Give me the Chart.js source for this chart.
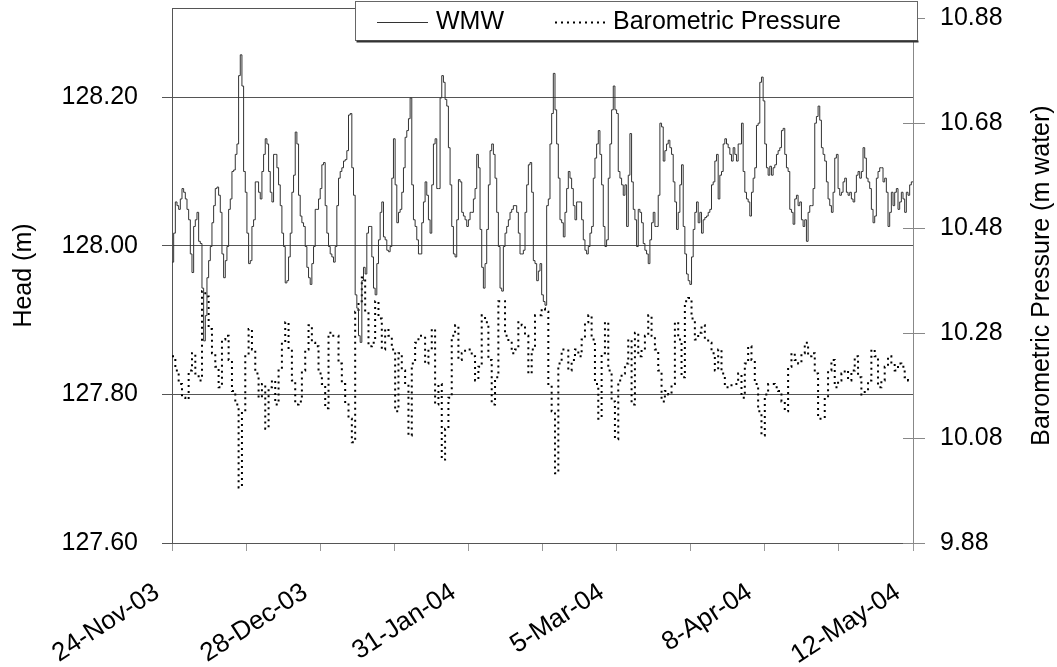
<!DOCTYPE html>
<html>
<head>
<meta charset="utf-8">
<script src="https://cdn.jsdelivr.net/npm/chart.js@4.4.0/dist/chart.umd.min.js"></script>
<style>
  html, body { margin: 0; background: #fff; }
  #wrap { width: 1057px; height: 667px; position: relative; }
</style>
</head>
<body>
<div id="wrap"><canvas id="chart"></canvas></div>
<script>
// --- Data ---
// WMW head (m), one reading every sample step from 24-Nov-03
const wmwHead = [
  127.978,128.017,128.059,128.054,128.049,128.063,128.077,128.072,128.063,128.049,
  128.035,127.989,127.964,128.026,128.035,128.045,128.006,128.003,127.943,127.872,
  127.906,127.957,127.980,127.999,128.031,128.054,128.077,128.079,128.068,128.045,
  127.989,127.957,127.980,127.999,128.049,128.063,128.100,128.102,128.123,128.137,
  128.229,128.257,128.215,128.100,128.072,128.017,127.976,127.980,128.026,128.035,
  128.086,128.086,128.072,128.063,128.100,128.123,128.144,128.137,128.100,128.072,
  128.059,128.123,128.123,128.105,128.082,128.054,128.017,127.999,127.950,127.953,
  127.985,128.017,128.072,128.095,128.153,128.137,128.068,128.040,128.031,128.026,
  127.999,127.971,127.957,127.948,127.976,127.999,128.049,128.049,128.063,128.077,
  128.109,128.112,128.054,128.017,127.999,127.989,127.985,127.978,127.999,128.054,
  128.091,128.100,128.105,128.114,128.116,128.128,128.176,128.178,128.105,128.068,
  127.934,127.916,127.879,
  127.870,127.953,127.971,127.962,128.017,128.026,128.026,127.985,127.943,127.934,
  127.976,128.008,128.045,128.059,128.012,128.008,127.994,127.992,127.999,128.091,
  128.144,128.082,128.031,128.045,128.049,128.072,128.105,128.146,128.155,128.171,
  128.199,128.082,128.035,128.026,128.008,127.989,127.989,128.031,128.059,128.086,
  128.068,128.035,128.017,128.082,128.137,128.144,128.077,128.077,128.199,128.229,
  128.220,128.197,128.188,128.132,128.082,128.026,127.989,127.985,128.035,128.089,
  128.086,128.045,128.040,128.035,128.026,128.035,128.045,128.045,128.063,128.077,
  128.123,128.105,128.022,127.971,127.943,127.976,128.022,128.082,128.128,128.137,
  128.123,128.091,128.045,127.999,127.943,127.939,127.999,128.017,128.026,128.035,
  128.045,128.049,128.054,128.054,128.045,128.017,127.989,127.989,127.994,128.045,
  128.082,128.109,128.112,128.072,127.980,127.976,127.953,127.966,127.976,
  127.934,127.925,127.920,128.054,128.063,128.137,128.178,128.232,128.183,128.137,
  128.091,128.035,128.031,128.012,128.045,128.077,128.100,128.091,128.077,128.054,
  128.035,128.059,128.059,128.059,128.035,128.008,127.994,127.989,127.999,128.017,
  128.026,128.091,128.118,128.137,128.155,128.123,128.082,128.026,127.999,128.008,
  128.091,128.137,128.183,128.215,128.183,128.178,128.100,128.091,128.082,128.068,
  128.082,128.026,128.095,128.151,128.086,128.049,128.035,127.999,128.049,128.045,
  128.031,128.003,127.994,127.989,127.976,128.008,128.031,128.045,128.026,128.026,
  128.068,128.165,128.160,128.114,128.128,128.137,128.142,128.132,128.123,128.086,
  128.059,128.022,128.045,128.082,128.109,128.026,127.989,127.962,127.953,127.948,
  127.985,128.022,128.045,128.059,128.031,128.045,128.017,128.035,128.038,128.040,
  128.045,128.049,128.082,128.086,128.114,128.123,128.063,128.095,128.100,128.137,
  128.144,128.137,128.132,128.123,
  128.114,128.132,128.123,128.114,128.137,128.137,128.165,128.100,128.072,128.063,
  128.059,128.040,128.072,128.091,128.105,128.162,128.165,128.220,128.227,128.195,
  128.137,128.105,128.095,128.107,128.095,128.105,128.109,128.123,128.128,128.132,
  128.155,128.158,128.123,128.105,128.100,128.049,128.045,128.029,128.063,128.068,
  128.054,128.059,128.035,128.026,128.035,128.006,128.045,128.054,128.054,128.077,
  128.165,128.174,128.188,128.169,128.132,128.123,128.114,128.086,128.063,128.054,
  128.045,128.072,128.118,128.123,128.077,128.068,128.072,128.086,128.091,128.072,
  128.068,128.072,128.063,128.059,128.072,128.095,128.100,128.091,128.100,128.132,
  128.118,128.091,128.086,128.077,128.049,128.031,128.040,128.091,128.100,128.105,
  128.105,128.086,128.091,128.072,128.026,128.045,128.072,128.054,128.072,128.077,
  128.049,128.059,128.072,128.063,128.045,128.072,128.068,128.082,128.086,128.086
];

// Barometric pressure (m water), one reading every second sample step
const baroPressure = [
  10.236,10.209,10.183,10.157,10.154,10.209,10.242,10.203,10.190,10.360,
  10.350,10.288,10.242,10.216,10.177,10.268,10.275,10.229,10.170,10.144,
  9.986,10.131,10.236,10.288,10.249,10.203,10.157,10.183,10.098,10.177,
  10.190,10.144,10.209,10.262,10.301,10.249,10.190,10.144,10.150,10.209,
  10.249,10.295,10.262,10.255,10.203,10.183,10.137,10.281,10.275,10.275,
  10.222,10.183,10.144,10.117,10.072,10.321,10.341,
  10.386,10.321,10.255,10.262,10.341,10.308,10.249,10.288,10.275,10.249,
  10.131,10.242,10.209,10.183,10.085,10.222,10.262,10.275,10.275,10.222,
  10.249,10.288,10.144,10.183,10.039,10.098,10.157,10.275,10.295,10.229,
  10.242,10.249,10.249,10.236,10.190,10.216,10.314,10.301,10.229,10.144,
  10.196,10.341,10.341,10.275,10.262,10.242,10.249,10.301,10.295,10.275,
  10.203,10.249,10.314,10.314,
  10.327,10.321,10.183,10.131,10.013,10.222,10.249,10.249,10.209,10.229,
  10.249,10.236,10.268,10.301,10.314,10.268,10.183,10.117,10.242,10.301,
  10.209,10.150,10.078,10.190,10.203,10.222,10.268,10.144,10.281,10.236,
  10.249,10.275,10.314,10.275,10.249,10.209,10.150,10.170,10.163,10.183,
  10.301,10.268,10.196,10.341,10.347,10.308,10.268,10.281,10.295,10.268,
  10.262,10.242,10.209,10.249,10.203,10.177,10.177,
  10.183,10.183,10.203,10.157,10.222,10.255,10.229,10.183,10.131,10.085,
  10.163,10.183,10.183,10.177,10.170,10.150,10.131,10.216,10.242,10.229,
  10.222,10.242,10.262,10.236,10.242,10.203,10.117,10.117,10.157,10.209,
  10.229,10.177,10.190,10.203,10.209,10.190,10.209,10.236,10.196,10.163,
  10.170,10.190,10.249,10.236,10.177,10.190,10.216,10.236,10.222,10.209,
  10.222,10.216,10.196,10.190,10.190
];

// Axis ticks
const dateLabels = ['24-Nov-03', '28-Dec-03', '31-Jan-04', '5-Mar-04', '8-Apr-04', '12-May-04'];
const dateDays = [0, 34, 68, 102, 136, 170];      // days after 24-Nov-03
const xTickDays = [0, 17, 34, 51, 68, 85, 102, 119, 136, 153, 170];
const headTicks = [127.6, 127.8, 128.0, 128.2];
const baroTicks = [9.88, 10.08, 10.28, 10.48, 10.68, 10.88];

const dayStep = 170 / 445; // logger sample interval in days
const wmwPoints = wmwHead.map((v, i) => ({ x: i * dayStep, y: v }));
const baroPoints = baroPressure.map((v, i) => ({ x: i * 2 * dayStep, y: v }));

const FONT_FAMILY = "'Liberation Sans', Arial, sans-serif";
const FONT = '25px ' + FONT_FAMILY;
Chart.defaults.font.family = FONT_FAMILY;
Chart.defaults.font.size = 25;
Chart.defaults.color = '#000';

// --- Frame, axis titles and boxed legend ---
const frame = {
  id: 'frame',
  afterDatasetsDraw(chart) {
    const { ctx, chartArea: a, scales } = chart;
    ctx.save();
    ctx.lineWidth = 1;
    ctx.strokeStyle = '#555';
    ctx.beginPath();
    ctx.moveTo(a.left, a.top + 0.5);
    ctx.lineTo(a.right, a.top + 0.5);
    ctx.stroke();
    // right axis ticks cross the axis
    ctx.strokeStyle = '#888';
    scales.yBaro.ticks.forEach(t => {
      const y = Math.round(scales.yBaro.getPixelForValue(t.value)) + 0.5;
      ctx.beginPath();
      ctx.moveTo(a.right - 10, y);
      ctx.lineTo(a.right, y);
      ctx.stroke();
    });
    ctx.restore();
  },
  afterDraw(chart) {
    const { ctx, chartArea: a } = chart;
    const mid = (a.top + a.bottom) / 2;
    ctx.save();
    ctx.fillStyle = '#000';
    ctx.font = FONT;
    ctx.textAlign = 'center';
    ctx.textBaseline = 'middle';
    [[24, 'Head (m)'], [1042, 'Barometric Pressure (m water)']].forEach(([x, txt]) => {
      ctx.save();
      ctx.translate(x, mid);
      ctx.rotate(-Math.PI / 2);
      ctx.fillText(txt, 0, 0);
      ctx.restore();
    });

    // legend box
    const bx = 355.5, by = 1.5, bw = 562, bh = 39;
    ctx.fillStyle = '#fff';
    ctx.fillRect(bx, by, bw, bh);
    ctx.strokeStyle = '#666';
    ctx.lineWidth = 1;
    ctx.strokeRect(bx, by, bw, bh);
    ctx.strokeStyle = '#333';
    ctx.lineWidth = 2;
    ctx.beginPath();
    ctx.moveTo(bx + 1, by + bh + 1);
    ctx.lineTo(bx + bw + 1, by + bh + 1);
    ctx.stroke();

    const ly = 22.5;
    ctx.lineWidth = 1;
    ctx.strokeStyle = '#333';
    ctx.beginPath();
    ctx.moveTo(377, ly);
    ctx.lineTo(428, ly);
    ctx.stroke();
    ctx.lineWidth = 2;
    ctx.strokeStyle = '#000';
    ctx.setLineDash([2, 4]);
    ctx.beginPath();
    ctx.moveTo(555, ly);
    ctx.lineTo(606, ly);
    ctx.stroke();
    ctx.setLineDash([]);

    ctx.fillStyle = '#000';
    ctx.textAlign = 'left';
    ctx.fillText('WMW', 436, ly);
    ctx.fillText('Barometric Pressure', 613, ly);
    ctx.restore();
  }
};

const noPad = s => { s.paddingTop = 0; s.paddingBottom = 0; s.paddingLeft = 0; s.paddingRight = 0; };

new Chart(document.getElementById('chart'), {
  type: 'line',
  data: {
    datasets: [
      {
        label: 'WMW',
        data: wmwPoints,
        yAxisID: 'yHead',
        borderColor: '#333',
        borderWidth: 1,
        pointRadius: 0,
        stepped: true
      },
      {
        label: 'Barometric Pressure',
        data: baroPoints,
        yAxisID: 'yBaro',
        borderColor: '#000',
        borderWidth: 2,
        borderDash: [2, 4],
        pointRadius: 0,
        stepped: true
      }
    ]
  },
  options: {
    responsive: true,
    maintainAspectRatio: false,
    animation: false,
    layout: { padding: { top: 8, left: 0, right: 0, bottom: 0 } },
    plugins: { legend: { display: false }, tooltip: { enabled: false } },
    scales: {
      x: {
        type: 'linear',
        min: 0,
        max: 170,
        afterBuildTicks: s => { s.ticks = xTickDays.map(v => ({ value: v })); },
        afterFit: s => { s.height = 124; noPad(s); },
        grid: { drawOnChartArea: false, tickLength: 8, color: '#999' },
        border: { color: '#555' },
        ticks: {
          autoSkip: false,
          minRotation: 33,
          maxRotation: 33,
          padding: 26,
          labelOffset: -15,
          font: { size: 26 },
          callback: v => {
            const i = dateDays.indexOf(v);
            return i >= 0 ? dateLabels[i] : '';
          }
        }
      },
      yHead: {
        position: 'left',
        min: 127.6,
        max: 128.32,
        afterBuildTicks: s => { s.ticks = headTicks.map(v => ({ value: v })); },
        afterFit: s => { s.width = 172; noPad(s); },
        grid: { color: '#555', tickLength: 10 },
        border: { color: '#555' },
        ticks: { padding: 24, callback: v => v.toFixed(2) }
      },
      yBaro: {
        position: 'right',
        min: 9.88,
        max: 10.90,
        afterBuildTicks: s => { s.ticks = baroTicks.map(v => ({ value: v })); },
        afterFit: s => { s.width = 144; noPad(s); },
        grid: { drawOnChartArea: false, tickLength: 12, color: '#888' },
        border: { color: '#888' },
        ticks: { padding: 15, callback: v => v.toFixed(2) }
      }
    }
  },
  plugins: [frame]
});
</script>
</body>
</html>
